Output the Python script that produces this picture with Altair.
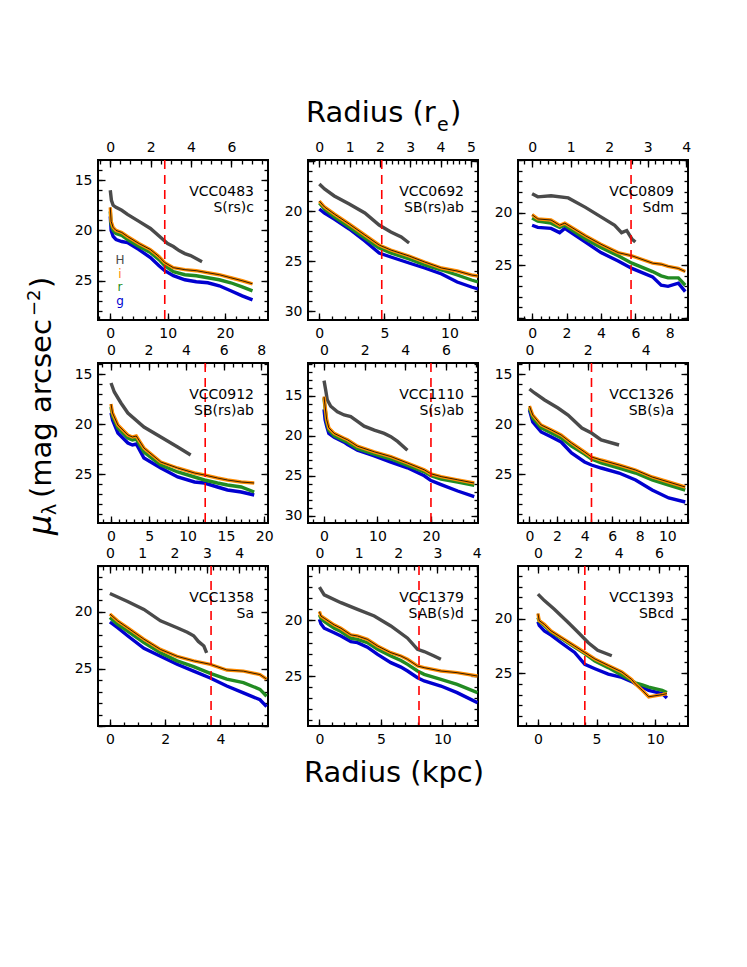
import math
import altair as alt
import pandas as pd

BANDS = ["H", "g", "r", "i"]
BAND_COLORS = ["#4a4a4a", "#0000d0", "#228b22", "#ff8c00"]

GALAXY = ["VCC0483", "VCC0692", "VCC0809", "VCC0912", "VCC1110",
          "VCC1326", "VCC1358", "VCC1379", "VCC1393"]
HUBBLE_TYPE = ["S(rs)c", "SB(rs)ab", "Sdm", "SB(rs)ab", "S(s)ab",
               "SB(s)a", "Sa", "SAB(s)d", "SBcd"]
RE_KPC = [3.52, 2.33, 2.24, 2.45, 3.8, 2.11, 1.17, 3.2, 1.72]
R_DASH = [9.5, 4.8, 5.75, 12.3, 20.0, 4.5, 3.66, 8.1, 4.0]

# ---- surface brightness profiles (kpc, mag arcsec^-2) ----
VCC0483_R = [0, 0.15, 0.5, 1, 2, 3, 5, 7, 8.5, 9.5, 11, 13, 15, 17, 19, 21, 23, 24.8]
VCC0483_I = [17.7, 19.1, 19.7, 20.0, 20.2, 20.6, 21.3, 21.9, 22.6, 23.2, 23.7, 23.9, 24.0, 24.2, 24.4, 24.7, 25.0, 25.3]
VCC0483_RB = [18.1, 19.4, 20.0, 20.3, 20.5, 20.9, 21.6, 22.2, 22.9, 23.5, 24.1, 24.4, 24.5, 24.7, 24.9, 25.2, 25.6, 26.0]
VCC0483_G = [18.6, 20.0, 20.6, 20.9, 21.1, 21.2, 21.9, 22.7, 23.5, 24.0, 24.5, 24.9, 25.1, 25.2, 25.5, 26.0, 26.5, 26.9]
VCC0483_RH = [0, 0.2, 0.5, 1, 2, 3, 5, 7, 9, 10, 11, 12, 13, 14, 16]
VCC0483_H = [16.0, 17.0, 17.5, 17.7, 18.0, 18.4, 19.1, 19.8, 20.8, 21.3, 21.6, 22.0, 22.3, 22.5, 23.1]

VCC0692_R = [0, 0.4, 1.15, 2.3, 3.5, 4.6, 5.5, 6.9, 8.1, 9.4, 10.6, 11.7, 12.2]
VCC0692_I = [19.0, 19.6, 20.3, 21.3, 22.4, 23.4, 23.9, 24.5, 25.1, 25.7, 26.0, 26.4, 26.5]
VCC0692_RB = [19.2, 19.8, 20.6, 21.6, 22.7, 23.7, 24.2, 24.8, 25.4, 25.9, 26.4, 26.9, 27.1]
VCC0692_G = [19.8, 20.2, 20.8, 21.8, 23.0, 24.2, 24.6, 25.2, 25.7, 26.3, 27.1, 27.6, 27.8]
VCC0692_RH = [0, 0.4, 1.15, 2.3, 3.5, 4.6, 5.5, 6.3, 6.9]
VCC0692_H = [17.3, 17.8, 18.5, 19.3, 20.2, 21.4, 22.1, 22.6, 23.2]

VCC0809_R = [0, 0.33, 1.1, 1.6, 1.9, 3.1, 4.0, 5.0, 5.8, 7.0, 7.5, 7.9, 8.5, 8.9]
VCC0809_I = [20.2, 20.6, 20.7, 21.2, 21.0, 22.2, 23.0, 23.8, 24.1, 24.8, 24.9, 25.1, 25.3, 25.6]
VCC0809_RB = [20.5, 20.8, 21.0, 21.4, 21.2, 22.5, 23.3, 24.1, 24.8, 25.6, 26.0, 26.2, 26.2, 26.9]
VCC0809_G = [21.2, 21.4, 21.5, 21.9, 21.5, 22.8, 23.8, 24.6, 25.3, 26.1, 26.9, 27.0, 26.7, 27.5]
VCC0809_RH = [0, 0.33, 1.1, 2.1, 3.1, 4.0, 4.8, 5.2, 5.5, 5.8, 6.0]
VCC0809_H = [18.2, 18.5, 18.4, 18.6, 19.5, 20.4, 21.2, 21.9, 21.7, 22.5, 22.8]

VCC0912_R = [0, 0.2, 0.9, 2.2, 2.8, 3.3, 4.3, 6.5, 8.7, 10.9, 12.2, 13.9, 15.2, 17.0, 18.7]
VCC0912_I = [18.0, 18.9, 20.1, 21.1, 21.3, 21.2, 22.4, 23.8, 24.4, 24.9, 25.1, 25.4, 25.6, 25.8, 25.9]
VCC0912_RB = [18.3, 19.2, 20.4, 21.4, 21.6, 21.5, 22.8, 24.1, 24.8, 25.3, 25.6, 25.9, 26.1, 26.3, 26.8]
VCC0912_G = [18.9, 19.6, 20.9, 21.9, 22.1, 22.0, 23.4, 24.4, 25.3, 25.8, 25.9, 26.3, 26.6, 26.8, 27.1]
VCC0912_RH = [0, 0.43, 1.3, 2.2, 4.3, 6.5, 8.7, 10.4]
VCC0912_H = [15.9, 16.8, 17.9, 18.9, 20.3, 21.3, 22.3, 23.1]

VCC1110_R = [0, 0.2, 0.5, 0.9, 1.9, 3.75, 4.4, 6.25, 9.4, 12.5, 15.6, 18.75, 20, 21.9, 25, 28.1]
VCC1110_I = [15.1, 16.3, 18.0, 19.0, 19.7, 20.3, 20.5, 21.3, 22.0, 22.6, 23.4, 24.25, 24.75, 25.1, 25.5, 25.9]
VCC1110_RB = [15.3, 16.6, 18.3, 19.3, 20.0, 20.6, 20.8, 21.6, 22.3, 22.9, 23.7, 24.5, 25.0, 25.4, 25.8, 26.2]
VCC1110_G = [16.7, 18.0, 18.8, 19.7, 20.2, 20.8, 21.1, 21.8, 22.5, 23.3, 24.0, 25.0, 25.6, 26.1, 26.9, 27.6]
VCC1110_RH = [0, 0.3, 0.6, 1.25, 2.5, 3.75, 5, 6.25, 7.5, 9.4, 11.25, 12.5, 13.75, 15.6]
VCC1110_H = [13.1, 14.25, 15.5, 16.3, 17.0, 17.4, 17.6, 18.2, 18.8, 19.3, 19.7, 20.1, 20.7, 21.8]

VCC1326_R = [0, 0.24, 0.85, 1.6, 2.3, 3.05, 4.0, 4.5, 5.2, 6.5, 7.7, 8.9, 10.1, 11.3]
VCC1326_I = [18.2, 19.1, 20.1, 20.6, 21.1, 21.9, 22.8, 23.3, 23.6, 24.1, 24.6, 25.3, 25.8, 26.3]
VCC1326_RB = [18.4, 19.4, 20.4, 20.9, 21.4, 22.2, 23.0, 23.5, 23.9, 24.4, 24.9, 25.6, 26.1, 26.6]
VCC1326_G = [18.6, 19.8, 20.8, 21.3, 21.8, 22.9, 23.8, 24.1, 24.4, 24.9, 25.6, 26.6, 27.4, 27.8]
VCC1326_RH = [0, 0.37, 1.1, 2.07, 2.8, 3.8, 4.5, 5.2, 6.5]
VCC1326_H = [16.5, 16.9, 17.6, 18.4, 19.1, 20.4, 20.9, 21.6, 22.1]

VCC1358_R = [0, 0.28, 0.64, 1.23, 1.83, 2.43, 3.03, 3.63, 4.23, 4.83, 5.43, 5.67]
VCC1358_I = [20.2, 20.8, 21.4, 22.4, 23.3, 23.9, 24.3, 24.6, 25.1, 25.2, 25.5, 25.9]
VCC1358_RB = [20.5, 21.1, 21.7, 22.7, 23.6, 24.3, 24.8, 25.4, 25.9, 26.2, 26.8, 27.4]
VCC1358_G = [20.9, 21.4, 22.1, 23.2, 23.9, 24.6, 25.2, 25.8, 26.5, 27.1, 27.7, 28.3]
VCC1358_RH = [0, 0.64, 1.23, 1.83, 2.43, 2.8, 3.03, 3.2, 3.4, 3.5]
VCC1358_H = [18.4, 19.1, 19.8, 20.8, 21.4, 21.8, 22.1, 22.6, 23.0, 23.6]

VCC1379_R = [0, 0.12, 0.39, 1.2, 1.75, 2.56, 3.1, 3.9, 4.73, 5.81, 6.63, 7.17, 7.98, 8.52, 9.88, 11.2, 12.86]
VCC1379_I = [19.2, 19.6, 19.8, 20.4, 20.7, 21.3, 21.4, 21.7, 22.3, 22.9, 23.2, 23.5, 24.1, 24.25, 24.55, 24.7, 25.0]
VCC1379_RB = [19.5, 19.8, 20.1, 20.7, 21.0, 21.6, 21.7, 22.0, 22.6, 23.2, 23.6, 23.95, 24.55, 24.85, 25.3, 25.75, 26.5]
VCC1379_G = [19.9, 20.3, 20.7, 21.1, 21.4, 21.9, 22.0, 22.4, 23.05, 23.8, 24.2, 24.55, 25.15, 25.45, 25.9, 26.5, 27.4]
VCC1379_RH = [0, 0.39, 1.75, 3.1, 4.46, 5.81, 7.17, 7.98, 8.52, 9.33, 9.88]
VCC1379_H = [17.0, 17.7, 18.4, 19.0, 19.6, 20.5, 21.6, 22.6, 22.8, 23.2, 23.5]

VCC1393_R = [0, 0.11, 0.55, 1.12, 1.98, 3.13, 4.0, 4.86, 6.0, 7.16, 8.0, 8.3, 8.9, 9.45, 10.6, 11.0]
VCC1393_I = [19.5, 20.15, 20.5, 21.1, 21.7, 22.5, 23.1, 23.7, 24.3, 24.9, 25.6, 26.0, 26.6, 27.2, 27.0, 26.9]
VCC1393_RB = [19.85, 20.2, 20.6, 21.2, 21.8, 22.6, 23.2, 23.9, 24.5, 25.2, 25.7, 25.9, 26.1, 26.3, 26.6, 26.8]
VCC1393_G = [20.25, 20.6, 21.1, 21.5, 22.2, 23.1, 24.2, 24.6, 25.1, 25.4, 25.8, 26.0, 26.3, 26.6, 26.9, 27.3]
VCC1393_RH = [0, 0.55, 1.4, 2.56, 3.4, 4.3, 5.1, 6.3]
VCC1393_H = [17.7, 18.3, 19.1, 20.3, 21.2, 22.2, 22.9, 23.4]

PROFILES = {
    "VCC0483": (VCC0483_R, VCC0483_I, VCC0483_RB, VCC0483_G, VCC0483_RH, VCC0483_H),
    "VCC0692": (VCC0692_R, VCC0692_I, VCC0692_RB, VCC0692_G, VCC0692_RH, VCC0692_H),
    "VCC0809": (VCC0809_R, VCC0809_I, VCC0809_RB, VCC0809_G, VCC0809_RH, VCC0809_H),
    "VCC0912": (VCC0912_R, VCC0912_I, VCC0912_RB, VCC0912_G, VCC0912_RH, VCC0912_H),
    "VCC1110": (VCC1110_R, VCC1110_I, VCC1110_RB, VCC1110_G, VCC1110_RH, VCC1110_H),
    "VCC1326": (VCC1326_R, VCC1326_I, VCC1326_RB, VCC1326_G, VCC1326_RH, VCC1326_H),
    "VCC1358": (VCC1358_R, VCC1358_I, VCC1358_RB, VCC1358_G, VCC1358_RH, VCC1358_H),
    "VCC1379": (VCC1379_R, VCC1379_I, VCC1379_RB, VCC1379_G, VCC1379_RH, VCC1379_H),
    "VCC1393": (VCC1393_R, VCC1393_I, VCC1393_RB, VCC1393_G, VCC1393_RH, VCC1393_H),
}

# ---- axis settings per panel ----
AXES = [
    dict(xdom=(-2.14, 27.5), ydom=(13.0, 28.9), xlab=[0, 10, 20], xmin=2, relab=[0, 2, 4, 6], remin=0.5, ylab=[15, 20, 25]),
    dict(xdom=(-0.87, 12.2), ydom=(14.9, 30.9), xlab=[0, 5, 10], xmin=1, relab=[0, 1, 2, 3, 4, 5], remin=0.2, ylab=[20, 25, 30]),
    dict(xdom=(-0.82, 9.06), ydom=(15.0, 30.2), xlab=[0, 2, 4, 6, 8], xmin=0.5, relab=[0, 1, 2, 3, 4], remin=0.2, ylab=[20, 25]),
    dict(xdom=(-1.7, 20.5), ydom=(13.9, 29.9), xlab=[0, 5, 10, 15, 20], xmin=1, relab=[0, 2, 4, 6, 8], remin=0.5, ylab=[15, 20, 25]),
    dict(xdom=(-3.0, 28.8), ydom=(10.9, 30.9), xlab=[0, 10, 20], xmin=2, relab=[0, 2, 4, 6], remin=0.5, ylab=[15, 20, 25, 30]),
    dict(xdom=(-0.83, 11.5), ydom=(13.9, 29.9), xlab=[0, 2, 4, 6, 8, 10], xmin=0.5, relab=[0, 2, 4], remin=0.5, ylab=[15, 20, 25]),
    dict(xdom=(-0.43, 5.72), ydom=(16.0, 30.0), xlab=[0, 2, 4], xmin=0.5, relab=[0, 1, 2, 3, 4], remin=0.2, ylab=[20, 25]),
    dict(xdom=(-0.93, 12.9), ydom=(15.1, 29.5), xlab=[0, 5, 10], xmin=1, relab=[0, 1, 2, 3, 4], remin=0.2, ylab=[15, 20, 25]),
    dict(xdom=(-1.7, 12.8), ydom=(15.1, 29.9), xlab=[0, 5, 10], xmin=1, relab=[0, 2, 4, 6], remin=0.5, ylab=[20, 25]),
]

W, H = 170, 160
FONT = "DejaVu Sans"


def tick_values(lo, hi, step):
    k0 = math.ceil(lo / step - 1e-9)
    k1 = math.floor(hi / step + 1e-9)
    return [round(k * step, 4) for k in range(k0, k1 + 1)]


def lab_axis(orient, values):
    return alt.Axis(orient=orient, values=values, ticks=False, domain=False, grid=False,
                    labelPadding=6, labelFlush=False, labelOverlap=False, title=None,
                    format="d", labelFont=FONT, labelFontSize=14, labelColor="black")


def tick_axis(orient, values, size):
    return alt.Axis(orient=orient, values=values, ticks=True, labels=False, domain=False,
                    grid=False, tickSize={"expr": str(-size)}, tickColor="black",
                    tickWidth=1.3, title=None)


def ghost(field, xdom, xaxis, ydom, yaxis):
    df = pd.DataFrame({field: [xdom[0]], "mu": [ydom[0]]})
    return alt.Chart(df).mark_point(opacity=0).encode(
        x=alt.X(f"{field}:Q", scale=alt.Scale(domain=list(xdom), nice=False, zero=False), axis=xaxis),
        y=alt.Y("mu:Q", scale=alt.Scale(domain=list(ydom), reverse=True, nice=False, zero=False), axis=yaxis),
    )


def text(t, x, y, size=14, color="black", align="right", angle=0, style="normal", font=FONT):
    kw = dict(text=t, fontSize=size, color=color, align=align, baseline="alphabetic",
              font=font, fontStyle=style)
    if angle:
        kw["angle"] = angle
    return alt.Chart(pd.DataFrame({"a": [0]})).mark_text(**kw).encode(
        x=alt.value(x), y=alt.value(y))


def panel(k):
    name = GALAXY[k]
    ax = AXES[k]
    ropt, mi, mr, mg, rh, mh = PROFILES[name]
    rows = []
    for band, rr, mm in (("H", rh, mh), ("g", ropt, mg), ("r", ropt, mr), ("i", ropt, mi)):
        for R, m in zip(rr, mm):
            rows.append({"R": R, "mu": m, "band": band})
    prof = pd.DataFrame(rows)
    xdom, ydom = ax["xdom"], ax["ydom"]
    re = RE_KPC[k]
    rdom = (xdom[0] / re, xdom[1] / re)
    xs = alt.Scale(domain=list(xdom), nice=False, zero=False)
    ys = alt.Scale(domain=list(ydom), reverse=True, nice=False, zero=False)

    lines = alt.Chart(prof).mark_line(strokeWidth=3.4, clip=True).encode(
        x=alt.X("R:Q", scale=xs, axis=lab_axis("bottom", ax["xlab"])),
        y=alt.Y("mu:Q", scale=ys, axis=lab_axis("left", ax["ylab"])),
        color=alt.Color("band:N", scale=alt.Scale(domain=BANDS, range=BAND_COLORS), legend=None),
    )
    iline = alt.Chart(prof[prof.band == "i"]).mark_line(strokeWidth=0.8, color="black", clip=True).encode(
        x=alt.X("R:Q", scale=xs, axis=None),
        y=alt.Y("mu:Q", scale=ys, axis=None),
    )
    dash = alt.Chart(pd.DataFrame({"R": [R_DASH[k]]})).mark_rule(
        color="#ff0000", strokeDash=[9, 6], strokeWidth=1.6).encode(
        x=alt.X("R:Q", scale=xs, axis=None))

    ymaj = tick_values(ydom[0], ydom[1], 5)
    ymin = tick_values(ydom[0], ydom[1], 1)
    xmaj = tick_values(xdom[0], xdom[1], ax["xlab"][1] - ax["xlab"][0])
    xmin = tick_values(xdom[0], xdom[1], ax["xmin"])
    remaj = tick_values(rdom[0], rdom[1], ax["relab"][1] - ax["relab"][0])
    remin = tick_values(rdom[0], rdom[1], ax["remin"])

    g1 = ghost("R", xdom, tick_axis("bottom", xmaj, 7), ydom, tick_axis("left", ymaj, 7))
    g2 = ghost("R", xdom, tick_axis("bottom", xmin, 4), ydom, tick_axis("left", ymin, 4))
    g3 = ghost("re", rdom, lab_axis("top", ax["relab"]), ydom, tick_axis("right", ymaj, 7))
    g4 = ghost("re", rdom, tick_axis("top", remaj, 7), ydom, tick_axis("right", ymin, 4))
    g5 = ghost("re", rdom, tick_axis("top", remin, 4), ydom, None)

    layers = [lines, iline, dash, g1, g2, g3, g4, g5,
              text(name, 156, 36), text(HUBBLE_TYPE[k], 156, 52)]

    if k == 0:
        for j, (lab, col) in enumerate(zip(["H", "i", "r", "g"],
                                           ["#4a4a4a", "#ff8c00", "#228b22", "#0000d0"])):
            layers.append(text(lab, 22, 104 + 13.5 * j, size=12, color=col, align="center"))
    if k == 1:
        layers.append(text("Radius (r", -2, -38, size=29, align="left"))
        layers.append(text("e", 129, -29, size=19, align="left"))
        layers.append(text(")", 142, -38, size=29, align="left"))
    if k == 3:
        layers.append(text("\u03bc", -47, 172, size=32, align="left", angle=270, style="italic"))
        layers.append(text("\u03bb", -42, 152, size=19, align="left", angle=270))
        layers.append(text("(mag arcsec", -47, 135, size=29, align="left", angle=270))
        layers.append(text("\u22122", -58, -47, size=18, align="left", angle=270))
        layers.append(text(")", -47, -75, size=29, align="left", angle=270))
    if k == 7:
        layers.append(text("Radius (kpc)", 86, 216, size=29, align="center"))

    return alt.layer(*layers).resolve_scale(x="independent", y="independent").properties(
        width=W, height=H)


panels = [panel(k) for k in range(9)]

chart = alt.concat(*panels, columns=3, spacing={"row": 43, "column": 40}, bounds="flush").configure_view(
    stroke="black", strokeWidth=2
).properties(
    padding={"left": 16, "top": 90, "right": 5, "bottom": 5},
    background="white",
)

chart.save("out.html", embed_options={"renderer": "svg", "actions": False})
